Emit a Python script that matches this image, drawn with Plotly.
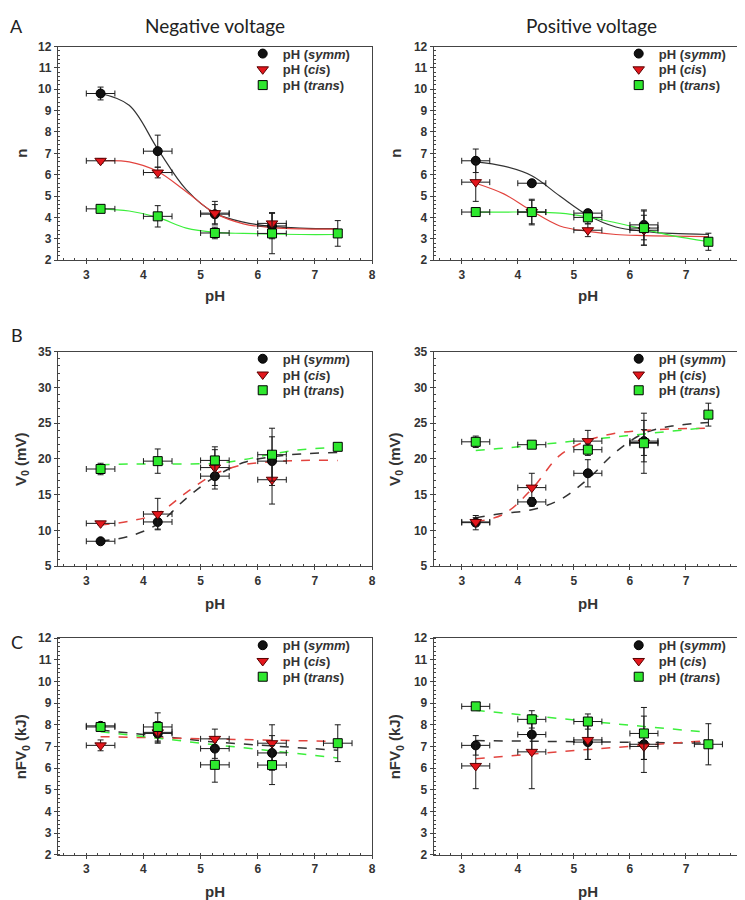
import plotly.graph_objects as go

W, H = 745, 900

# ---------------- data ----------------
ph4 = [3.25, 4.25, 5.25, 6.25]
ph5 = [3.25, 4.25, 5.25, 6.25, 7.4]
fit_ph = [3.25, 3.75, 4.25, 4.75, 5.25, 5.75, 6.25, 6.75, 7.4]
lin_ph = [3.25, 5.25, 7.4]
xerr4 = [0.25, 0.25, 0.25, 0.25]
xerr5_a = [0.25, 0.25, 0.25, 0.25, 0.0]
xerr5_c = [0.25, 0.25, 0.25, 0.25, 0.25]

# Panel A, negative voltage (n)
an_symm = [9.8, 7.1, 4.15, 3.6]
an_symm_err = [0.3, 0.75, 0.45, 0.6]
an_cis = [6.65, 6.1, 4.2, 3.72]
an_cis_err = [0.1, 0.25, 0.55, 0.5]
an_trans = [4.4, 4.05, 3.27, 3.25, 3.25]
an_trans_err = [0.1, 0.5, 0.27, 0.95, 0.6]
an_symm_fit = [9.8, 9.25, 7.2, 5.3, 4.2, 3.78, 3.58, 3.5, 3.47]
an_cis_fit = [6.65, 6.6, 6.15, 5.2, 4.2, 3.7, 3.52, 3.46, 3.45]
an_trans_fit = [4.4, 4.3, 4.0, 3.5, 3.3, 3.25, 3.22, 3.2, 3.2]

# Panel A, positive voltage (n)
ap_symm = [6.65, 5.6, 4.2, 3.65]
ap_symm_err = [0.55, 0.12, 0.15, 0.7]
ap_cis = [5.65, 4.25, 3.4, 3.4]
ap_cis_err = [0.9, 0.55, 0.3, 0.7]
ap_trans = [4.25, 4.25, 4.0, 3.5, 2.86]
ap_trans_err = [0.05, 0.6, 0.3, 0.8, 0.4]
ap_symm_fit = [6.6, 6.4, 5.95, 5.0, 4.1, 3.55, 3.35, 3.25, 3.2]
ap_cis_fit = [5.6, 5.1, 4.3, 3.6, 3.35, 3.2, 3.15, 3.12, 3.1]
ap_trans_fit = [4.25, 4.25, 4.25, 4.2, 4.02, 3.75, 3.45, 3.15, 2.87]

# Panel B, negative voltage (V0)
bn_symm = [8.5, 11.2, 17.6, 19.7]
bn_symm_err = [0.3, 1.0, 1.8, 3.4]
bn_cis = [11.0, 12.3, 18.8, 17.1]
bn_cis_err = [0.2, 2.2, 2.5, 3.4]
bn_trans = [18.6, 19.7, 19.8, 20.6, 21.7]
bn_trans_err = [0.8, 1.7, 1.9, 3.7, 0.3]
bn_symm_fit = [8.5, 9.2, 10.9, 14.5, 17.5, 19.5, 20.3, 20.7, 20.9]
bn_cis_fit = [10.8, 11.3, 12.4, 15.3, 17.9, 19.2, 19.6, 19.8, 19.8]
bn_trans_fit = [19.2, 19.3, 19.3, 19.3, 19.4, 19.9, 20.7, 21.3, 21.6]

# Panel B, positive voltage (V0)
bp_symm = [11.1, 14.0, 18.0, 22.5]
bp_symm_err = [1.0, 0.6, 1.9, 2.9]
bp_cis = [11.2, 16.0, 22.5, 22.3]
bp_cis_err = [0.6, 2.0, 1.5, 1.8]
bp_trans = [22.4, 22.0, 21.3, 22.2, 26.2]
bp_trans_err = [0.8, 0.2, 0.8, 4.2, 1.6]
bp_symm_fit = [11.8, 12.4, 12.9, 14.3, 17.2, 21.0, 23.6, 24.6, 25.1]
bp_cis_fit = [11.2, 12.3, 15.8, 20.5, 22.6, 23.6, 24.0, 24.2, 24.3]
bp_trans_fit = [21.2, 21.5, 21.9, 22.3, 22.7, 23.1, 23.5, 23.9, 24.4]

# Panel C, negative voltage (nFV0)
cn_symm = [7.95, 7.6, 6.9, 6.7]
cn_symm_err = [0.1, 0.4, 0.45, 0.8]
cn_cis = [7.05, 7.65, 7.35, 7.15]
cn_cis_err = [0.25, 0.5, 0.45, 0.85]
cn_trans = [7.9, 7.9, 6.15, 6.14, 7.15]
cn_trans_err = [0.15, 0.65, 0.8, 0.9, 0.85]
cn_symm_fit = [7.76, 7.2, 6.82]
cn_cis_fit = [7.45, 7.33, 7.23]
cn_trans_fit = [7.68, 7.08, 6.47]

# Panel C, positive voltage (nFV0)
cp_symm = [7.05, 7.55, 7.2, 7.1]
cp_symm_err = [0.45, 0.75, 0.8, 1.3]
cp_cis = [6.1, 6.75, 7.3, 7.0]
cp_cis_err = [1.05, 1.7, 0.9, 0.6]
cp_trans = [8.85, 8.25, 8.15, 7.6, 7.1]
cp_trans_err = [0.1, 0.4, 0.35, 1.2, 0.95]
cp_symm_fit = [7.27, 7.21, 7.15]
cp_cis_fit = [6.43, 6.86, 7.27]
cp_trans_fit = [8.67, 8.16, 7.65]

x_ticks = [3, 4, 5, 6, 7, 8]
n_ticks = [2, 3, 4, 5, 6, 7, 8, 9, 10, 11, 12]
v_ticks = [5, 10, 15, 20, 25, 30, 35]

legend_names = ["pH (<i>symm</i>)", "pH (<i>cis</i>)", "pH (<i>trans</i>)"]

# ---------------- layout geometry ----------------
def px_x(p):
    return p / W

def px_y(p):
    return 1 - p / H

col_dom = [[px_x(50), px_x(366)], [px_x(428), px_x(738)]]
row_top = [32, 342, 633]
row_bot = [249, 560, 853]
row_dom = [[px_y(b), px_y(t)] for t, b in zip(row_top, row_bot)]

fig = go.Figure()

BLACK = "#111111"
RED = "#e3161c"
GREEN = "#2ee82e"
LINE_GREEN = "#3cef3c"
LINE_RED = "#e2443f"
LINE_BLACK = "#333333"
ERR = "#1a1a1a"
SANS = "Arial, 'Liberation Sans', sans-serif"

panels = [
    (0, 0, fit_ph, an_symm, an_symm_err, an_cis, an_cis_err, an_trans, an_trans_err,
     an_symm_fit, an_cis_fit, an_trans_fit, "solid", xerr5_a, [2, 12], n_ticks, 0.2),
    (0, 1, fit_ph, ap_symm, ap_symm_err, ap_cis, ap_cis_err, ap_trans, ap_trans_err,
     ap_symm_fit, ap_cis_fit, ap_trans_fit, "solid", xerr5_a, [2, 12], n_ticks, 0.2),
    (1, 0, fit_ph, bn_symm, bn_symm_err, bn_cis, bn_cis_err, bn_trans, bn_trans_err,
     bn_symm_fit, bn_cis_fit, bn_trans_fit, "dash", xerr5_a, [5, 35], v_ticks, 1),
    (1, 1, fit_ph, bp_symm, bp_symm_err, bp_cis, bp_cis_err, bp_trans, bp_trans_err,
     bp_symm_fit, bp_cis_fit, bp_trans_fit, "dash", xerr5_a, [5, 35], v_ticks, 1),
    (2, 0, lin_ph, cn_symm, cn_symm_err, cn_cis, cn_cis_err, cn_trans, cn_trans_err,
     cn_symm_fit, cn_cis_fit, cn_trans_fit, "dash", xerr5_c, [2, 12], n_ticks, 0.2),
    (2, 1, lin_ph, cp_symm, cp_symm_err, cp_cis, cp_cis_err, cp_trans, cp_trans_err,
     cp_symm_fit, cp_cis_fit, cp_trans_fit, "dash", xerr5_c, [2, 12], n_ticks, 0.2),
]

tick_font = dict(family=SANS, size=12, color="#333333", weight=700)
legend_font = dict(family=SANS, size=13, color="#333333", weight=700)
layout_axes = {}
leg_count = 0
for i, (r, c, fx, s, se, ci, cie, t, te, sf, cf, tf, dash, txerr, yr, yt, ymin) in enumerate(panels):
    k = i + 1
    xa = "x" if k == 1 else f"x{k}"
    ya = "y" if k == 1 else f"y{k}"
    lw = 1.2 if dash == "solid" else 1.5
    spline = "spline" if len(fx) > 3 else "linear"
    for fy, col in ((sf, LINE_BLACK), (cf, LINE_RED), (tf, LINE_GREEN)):
        fig.add_trace(go.Scatter(x=fx, y=fy, mode="lines", xaxis=xa, yaxis=ya,
                                 line=dict(color=col, width=lw, dash=dash, shape=spline),
                                 showlegend=False, hoverinfo="skip"))
    err_common = dict(type="data", thickness=1, width=3, color=ERR)
    series = [
        (ph4, s, se, xerr4, dict(symbol="circle", size=9, color=BLACK, line=dict(color="#000", width=1))),
        (ph4, ci, cie, xerr4, dict(symbol="triangle-down", size=10, color=RED, line=dict(color="#5a0000", width=1))),
        (ph5, t, te, txerr, dict(symbol="square", size=9, color=GREEN, line=dict(color="#000", width=1))),
    ]
    for j, (xx, yy, ey, ex, mk) in enumerate(series):
        leg_count += 1
        leg = "legend" if leg_count == 1 else f"legend{leg_count}"
        fig.add_trace(go.Scatter(
            x=xx, y=yy, mode="markers", xaxis=xa, yaxis=ya, name=legend_names[j], legend=leg,
            marker=mk, error_y=dict(array=ey, **err_common), error_x=dict(array=ex, **err_common)))
        lx = (236 + (378 if c == 1 else 0)) / W
        row_c = row_top[r] + 9 + 16 * j
        layout_axes[leg] = dict(x=lx, y=px_y(row_c - 17), xanchor="left", yanchor="top",
                                bgcolor="rgba(0,0,0,0)", borderwidth=0,
                                font=legend_font, itemwidth=30)

    axis_common = dict(showline=True, mirror=True, linecolor="#444444", linewidth=1,
                       showgrid=False, zeroline=False, ticks="outside", ticklen=3,
                       tickcolor="#444444", tickfont=tick_font)
    layout_axes["xaxis" if k == 1 else f"xaxis{k}"] = dict(
        domain=col_dom[c], anchor=ya, range=[2.5, 8], tickvals=x_ticks,
        minor=dict(dtick=0.2, ticks="inside", ticklen=2, tickcolor="#444444"),
        **axis_common)
    layout_axes["yaxis" if k == 1 else f"yaxis{k}"] = dict(
        domain=row_dom[r], anchor=xa, range=yr, tickvals=yt,
        minor=dict(dtick=ymin, ticks="inside", ticklen=2, tickcolor="#444444"),
        **axis_common)

fig.update_layout(**layout_axes)

annotations = []
title_font = dict(family="Lato, 'Open Sans'", size=19, color="#222222")
annotations.append(dict(text="Negative voltage", x=px_x(208), y=px_y(11), xref="paper", yref="paper",
                        showarrow=False, font=title_font, xanchor="center", yanchor="middle"))
annotations.append(dict(text="Positive voltage", x=px_x(587), y=px_y(11), xref="paper", yref="paper",
                        showarrow=False, font=title_font, xanchor="center", yanchor="middle"))
for lab, yy in (("A", 11), ("B", 325), ("C", 637)):
    annotations.append(dict(text=lab, x=px_x(9), y=px_y(yy), xref="paper", yref="paper",
                            showarrow=False, font=dict(family="Lato, 'Open Sans'", size=18, color="#222222"),
                            xanchor="center", yanchor="middle"))
axis_title_font = dict(family=SANS, size=15, color="#333333", weight=700)
ytitles = ["n", "V<sub>0</sub> (mV)", "nFV<sub>0</sub> (kJ)"]
row_center = [140, 451, 743]
xtitle_y = [285, 598, 890]
for r in range(3):
    for c in range(2):
        xc = [14, 390][c]
        annotations.append(dict(text=ytitles[r], x=px_x(xc), y=px_y(row_center[r]), xref="paper", yref="paper",
                                showarrow=False, font=axis_title_font, textangle=-90,
                                xanchor="center", yanchor="middle"))
        xm = [(50 + 366) / 2, (428 + 738) / 2][c]
        annotations.append(dict(text="pH", x=px_x(xm), y=px_y(xtitle_y[r]), xref="paper", yref="paper",
                                showarrow=False, font=axis_title_font,
                                xanchor="center", yanchor="middle"))

fig.update_layout(width=W, height=H, margin=dict(l=0, r=0, t=0, b=0),
                  paper_bgcolor="white", plot_bgcolor="white", annotations=annotations)

fig.write_html("out.html")
